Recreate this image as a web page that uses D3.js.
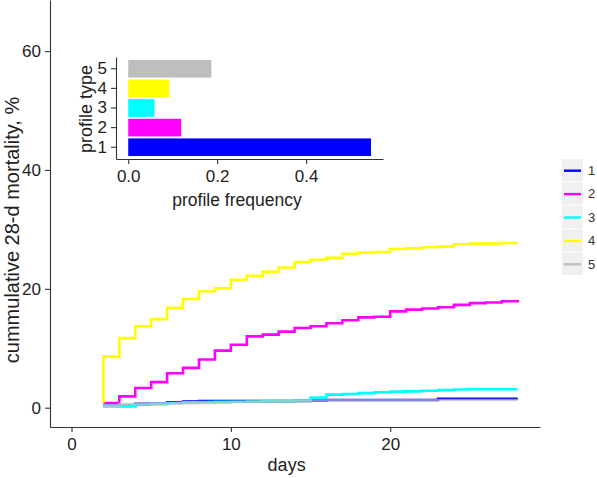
<!DOCTYPE html>
<html><head><meta charset="utf-8">
<script src="https://cdn.jsdelivr.net/npm/d3@7"></script>
<style>
body{margin:0;background:#fff;}
svg{display:block;font-family:"Liberation Sans",Arial,sans-serif;}
</style></head>
<body>
<svg id="chart" width="597" height="478"></svg>
<script>
// ---- data ----
const days = [2, 2, 3, 4, 5, 6, 7, 8, 9, 10, 11, 12, 13, 14, 15, 16, 17, 18, 19, 20, 21, 22, 23, 24, 25, 26, 27, 28];
const profile1 = [0.3, 0.3, 0.3, 0.65, 0.65, 0.9, 1.05, 1.1, 1.1, 1.1, 1.1, 1.1, 1.1, 1.15, 1.2, 1.3, 1.3, 1.3, 1.3, 1.3, 1.3, 1.3, 1.5, 1.5, 1.5, 1.5, 1.5, 1.5];
const profile2 = [0.8, 0.8, 1.9, 3.3, 4.3, 5.8, 6.7, 8.1, 9.6, 10.6, 12.0, 12.3, 12.8, 13.4, 13.7, 14.2, 14.7, 15.2, 15.3, 16.2, 16.5, 16.7, 16.9, 17.3, 17.6, 17.7, 17.9, 18.1];
const profile3 = [0.3, 0.3, 0.3, 0.5, 0.6, 0.8, 0.9, 0.95, 1.0, 1.0, 1.05, 1.1, 1.1, 1.2, 1.7, 2.2, 2.3, 2.45, 2.6, 2.7, 2.75, 2.85, 2.95, 3.05, 3.1, 3.1, 3.1, 3.1];
const profile4 = [0.8, 8.6, 11.7, 13.7, 14.9, 16.8, 18.3, 19.6, 20.1, 21.5, 22.2, 22.9, 23.6, 24.5, 24.9, 25.2, 25.9, 26.1, 26.2, 26.7, 26.8, 27.0, 27.1, 27.5, 27.6, 27.6, 27.7, 27.7];
const profile5 = [0.3, 0.3, 0.6, 0.65, 0.65, 0.7, 0.75, 0.8, 0.85, 0.95, 1.0, 1.05, 1.1, 1.15, 1.2, 1.25, 1.25, 1.25, 1.3, 1.3, 1.3, 1.3, 1.3, 1.3, 1.3, 1.3, 1.3, 1.3];
const profileTypes = ["1", "2", "3", "4", "5"];
const profileFrequency = [0.546, 0.119, 0.059, 0.092, 0.187];
const colors = ["#0000FF", "#FF00FF", "#00FFFF", "#FFFF00", "#BEBEBE"];
const xTicks = [0, 10, 20];
const yTicks = [0, 20, 40, 60];
const insetTicks = [0.0, 0.2, 0.4];

const series = [profile1, profile2, profile3, profile4, profile5];
const svg = d3.select("#chart");
const axisColor = "#333";
const textColor = "#222";

// ---- main panel ----
const x = d3.scaleLinear().domain([-1.35, 29.4]).range([50, 540]);
const y = d3.scaleLinear().domain([-3.25, 68.6]).range([427, 0]);

const gx = svg.append("g").attr("transform", "translate(0,427)")
  .call(d3.axisBottom(x).tickValues(xTicks).tickFormat(d3.format("d")).tickSize(5).tickSizeOuter(0).tickPadding(6));
const gy = svg.append("g").attr("transform", "translate(50,0)")
  .call(d3.axisLeft(y).tickValues(yTicks).tickFormat(d3.format("d")).tickSize(5).tickSizeOuter(0).tickPadding(4));
[gx, gy].forEach(g => {
  g.select(".domain").attr("stroke", axisColor).attr("stroke-width", 1.1);
  g.selectAll(".tick line").attr("stroke", axisColor).attr("stroke-width", 1.1);
  g.selectAll(".tick text").attr("fill", textColor).style("font-size", "17px").style("font-family", "Liberation Sans, Arial, sans-serif");
});

const line = d3.line().x((d, i) => x(days[i])).y(d => y(d)).curve(d3.curveStepAfter);
series.forEach((s, i) => {
  svg.append("path").attr("d", line(s)).attr("fill", "none")
    .attr("stroke", colors[i]).attr("stroke-width", 2.6)
    .attr("stroke-opacity", i === 4 ? 0.7 : 1);
});

svg.append("text").attr("x", x(13.5)).attr("y", 471).attr("text-anchor", "middle")
  .attr("fill", textColor).style("font-size", "18px").text("days");
svg.append("text").attr("transform", "translate(19,230) rotate(-90)").attr("text-anchor", "middle")
  .attr("fill", textColor).style("font-size", "20px").text("cummulative 28-d mortality, %");

// ---- legend ----
const lg = svg.append("g");
profileTypes.forEach((t, i) => {
  const cy = 159 + i * 23.4;
  lg.append("rect").attr("x", 562).attr("y", cy).attr("width", 21).attr("height", 22.4).attr("fill", "#F0F0F0");
  lg.append("line").attr("x1", 564).attr("x2", 581).attr("y1", cy + 11.7).attr("y2", cy + 11.7)
    .attr("stroke", colors[i]).attr("stroke-width", 2.4);
  lg.append("text").attr("x", 588).attr("y", cy + 16).attr("fill", "#333").style("font-size", "13px").text(t);
});

// ---- inset bar chart ----
const ix = d3.scaleLinear().domain([-0.0275, 0.573]).range([116, 383]);
const iy = d3.scaleBand().domain(profileTypes.slice().reverse()).range([57, 159]).paddingInner(0.1).paddingOuter(0.15);

svg.append("g").selectAll("rect").data(profileTypes).join("rect")
  .attr("x", ix(0)).attr("y", t => iy(t))
  .attr("width", (t, i) => ix(profileFrequency[i]) - ix(0))
  .attr("height", iy.bandwidth())
  .attr("fill", (t, i) => colors[i]);

const igx = svg.append("g").attr("transform", "translate(0,159)")
  .call(d3.axisBottom(ix).tickValues(insetTicks).tickFormat(d3.format(".1f")).tickSize(5).tickSizeOuter(0).tickPadding(6));
const igy = svg.append("g").attr("transform", "translate(116,0)")
  .call(d3.axisLeft(iy).tickSize(5).tickSizeOuter(0).tickPadding(4));
[igx, igy].forEach(g => {
  g.select(".domain").attr("stroke", axisColor).attr("stroke-width", 1.1);
  g.selectAll(".tick line").attr("stroke", axisColor).attr("stroke-width", 1.1);
  g.selectAll(".tick text").attr("fill", textColor).style("font-size", "17px").style("font-family", "Liberation Sans, Arial, sans-serif");
});
svg.append("text").attr("x", 237).attr("y", 206).attr("text-anchor", "middle")
  .attr("fill", textColor).style("font-size", "17.5px").text("profile frequency");
svg.append("text").attr("transform", "translate(92,109) rotate(-90)").attr("text-anchor", "middle")
  .attr("fill", textColor).style("font-size", "18px").text("profile type");
</script>
</body></html>
